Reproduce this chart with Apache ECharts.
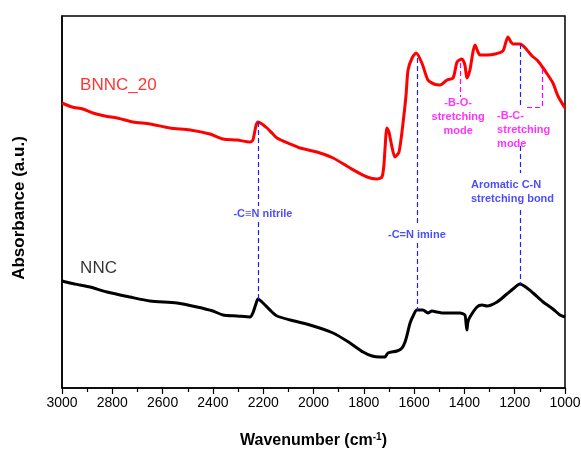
<!DOCTYPE html>
<html>
<head>
<meta charset="utf-8">
<script src="https://cdn.jsdelivr.net/npm/echarts@6/dist/echarts.min.js"></script>
<style>
  html, body { margin: 0; padding: 0; background: #fff; }
  #chart { width: 581px; height: 450px; }
</style>
</head>
<body>
<div id="chart"></div>
<script>
// FTIR spectra, wavenumber in cm^-1, absorbance in arbitrary units (curves offset)
const bnncWavenumber = [3000, 2960, 2917, 2877, 2829, 2781, 2718, 2650, 2571, 2491, 2412, 2360, 2304, 2252, 2241, 2229, 2221, 2205, 2185, 2165, 2145, 2093, 2054, 1986, 1922, 1855, 1787, 1748, 1728, 1720, 1716, 1708, 1700, 1692, 1676, 1660, 1644, 1632, 1624, 1608, 1592, 1569, 1545, 1521, 1497, 1469, 1445, 1429, 1410, 1398, 1390, 1378, 1366, 1358, 1346, 1338, 1310, 1278, 1247, 1235, 1227, 1215, 1207, 1179, 1151, 1131, 1111, 1087, 1068, 1048, 1028, 1000];
const bnncAbsorbance = [2.85, 2.81, 2.79, 2.75, 2.72, 2.70, 2.66, 2.64, 2.60, 2.58, 2.54, 2.49, 2.48, 2.46, 2.48, 2.62, 2.66, 2.64, 2.60, 2.55, 2.50, 2.44, 2.40, 2.36, 2.30, 2.20, 2.11, 2.09, 2.11, 2.23, 2.38, 2.60, 2.56, 2.46, 2.31, 2.36, 2.65, 2.93, 3.18, 3.30, 3.35, 3.25, 3.08, 3.04, 3.03, 3.08, 3.10, 3.26, 3.29, 3.23, 3.10, 3.18, 3.36, 3.43, 3.36, 3.33, 3.33, 3.34, 3.37, 3.46, 3.51, 3.46, 3.44, 3.44, 3.38, 3.32, 3.28, 3.20, 3.13, 3.05, 2.92, 2.80];

const nncWavenumber = [3000, 2968, 2928, 2889, 2821, 2730, 2650, 2543, 2463, 2400, 2360, 2304, 2252, 2241, 2229, 2221, 2205, 2185, 2165, 2145, 2093, 2014, 1922, 1855, 1803, 1767, 1736, 1716, 1704, 1668, 1648, 1636, 1628, 1616, 1604, 1589, 1565, 1545, 1529, 1509, 1489, 1469, 1445, 1418, 1398, 1394, 1390, 1386, 1378, 1350, 1330, 1310, 1270, 1231, 1207, 1179, 1151, 1127, 1087, 1048, 1020, 1000];
const nncAbsorbance = [1.07, 1.05, 1.03, 1.01, 0.96, 0.91, 0.87, 0.85, 0.81, 0.77, 0.73, 0.72, 0.71, 0.75, 0.84, 0.89, 0.86, 0.81, 0.76, 0.72, 0.68, 0.63, 0.55, 0.45, 0.36, 0.32, 0.31, 0.31, 0.35, 0.37, 0.40, 0.46, 0.53, 0.65, 0.72, 0.78, 0.78, 0.75, 0.77, 0.76, 0.75, 0.75, 0.75, 0.75, 0.73, 0.66, 0.58, 0.66, 0.71, 0.81, 0.83, 0.82, 0.86, 0.94, 0.99, 1.04, 1.00, 0.95, 0.86, 0.79, 0.73, 0.71];

const xTickStep = 200;
const xMin = 1000, xMax = 3000;
const yMin = 0, yMax = 3.72;

// Band assignment guides: [wavenumber, from, to] (split around their labels)
const bandGuides = [
  [2221, 2.66, 1.82], [2221, 1.66, 0.89],
  [1589, 3.30, 1.62], [1589, 1.45, 0.78],
  [1179, 3.44, 2.80], [1179, 2.42, 2.15], [1179, 1.78, 1.04]
];
const bandLabels = [
  { text: '-C\u2261N nitrile', at: [2201, 1.74], align: 'center' },
  { text: '-C=N imine', at: [1589, 1.53], align: 'center' },
  { text: 'Aromatic C-N\nstretching bond', at: [1374, 1.965], align: 'left' }
];

// Boron-related bands: segment end points [wavenumber, absorbance]
const boronGuides = [
  [[1418, 3.25], [1418, 2.91]],
  [[1091, 3.19], [1091, 2.81]],
  [[1151, 2.81], [1091, 2.81]]
];
const boronLabels = [
  { text: '-B-O-\nstretching\nmode', at: [1425, 2.71], align: 'center' },
  { text: '-B-C-\nstretching\nmode', at: [1270, 2.58], align: 'left' }
];

const sampleLabels = [
  { text: 'BNNC_20', at: [2928, 3.03], color: '#ff0000' },
  { text: 'NNC', at: [2928, 1.20], color: '#000000' }
];

const zip = (xs, ys) => xs.map((x, i) => [x, ys[i]]);

const blue = '#2020ff';
const magenta = '#ff00ff';
const font = 'Liberation Sans, Arial, sans-serif';

const guideLine = (segments, color) => ({
  silent: true,
  symbol: ['none', 'none'],
  label: { show: false },
  lineStyle: { color: color, type: [5, 3], width: 1.2 },
  data: segments.map(s => [{ coord: s[0] }, { coord: s[1] }])
});

const textPoints = (items, color, size, weight) => items.map(it => ({
  value: it.at,
  label: {
    show: true,
    position: 'inside',
    formatter: it.text,
    color: it.color || color,
    fontSize: size,
    fontWeight: weight,
    fontFamily: font,
    lineHeight: Math.round(size * 1.3),
    align: it.align || 'left',
    verticalAlign: 'middle'
  }
}));

const chart = echarts.init(document.getElementById('chart'), null, { renderer: 'canvas' });

chart.setOption({
  animation: false,
  backgroundColor: '#fff',
  grid: {
    left: 62, right: 16, top: 16, bottom: 62,
    containLabel: false,
    outerBoundsMode: 'none',
    show: true, borderColor: '#000', borderWidth: 1.5
  },
  xAxis: {
    type: 'value',
    min: xMin, max: xMax, interval: xTickStep,
    inverse: true,
    name: '{t|Wavenumber (cm}{s|-1}{t|)}',
    nameLocation: 'middle',
    nameGap: 44,
    nameTextStyle: {
      rich: {
        t: { fontSize: 16, fontWeight: 'bold', color: '#000', fontFamily: font },
        s: { fontSize: 10, fontWeight: 'bold', color: '#000', fontFamily: font, verticalAlign: 'top', padding: [0, 0, 8, 0] }
      }
    },
    axisLine: { show: true, lineStyle: { color: '#000', width: 1.5 } },
    axisTick: { show: true, inside: false, length: 6, lineStyle: { color: '#000', width: 1.2 } },
    minorTick: { show: true, splitNumber: 2, length: 4, lineStyle: { color: '#000', width: 1.2 } },
    axisLabel: { color: '#000', fontSize: 14, margin: 8, fontFamily: font, formatter: v => String(v) },
    splitLine: { show: false }
  },
  yAxis: {
    type: 'value',
    min: yMin, max: yMax,
    name: 'Absorbance (a.u.)',
    nameLocation: 'middle',
    nameGap: 34,
    nameTextStyle: { fontSize: 17, fontWeight: 'bold', color: '#000', fontFamily: font, padding: [0, 12, 0, 0] },
    axisLine: { show: true, lineStyle: { color: '#000', width: 1.5 } },
    axisTick: { show: false },
    axisLabel: { show: false },
    splitLine: { show: false }
  },
  series: [
    {
      name: 'BNNC_20',
      type: 'line',
      data: zip(bnncWavenumber, bnncAbsorbance),
      showSymbol: false,
      smooth: 0.25,
      lineStyle: { color: '#ff0000', width: 3 },
      z: 3,
      markLine: guideLine(boronGuides, magenta)
    },
    {
      name: 'NNC',
      type: 'line',
      data: zip(nncWavenumber, nncAbsorbance),
      showSymbol: false,
      smooth: 0.25,
      lineStyle: { color: '#000000', width: 3 },
      z: 3,
      markLine: guideLine(bandGuides.map(g => [[g[0], g[1]], [g[0], g[2]]]), blue)
    },
    {
      name: 'band labels',
      type: 'scatter',
      silent: true,
      symbolSize: 0,
      z: 5,
      data: textPoints(bandLabels, blue, 11, 'bold')
    },
    {
      name: 'boron labels',
      type: 'scatter',
      silent: true,
      symbolSize: 0,
      z: 5,
      data: textPoints(boronLabels, magenta, 11, 'bold')
    },
    {
      name: 'sample labels',
      type: 'scatter',
      silent: true,
      symbolSize: 0,
      z: 5,
      data: sampleLabels.map(s => ({
        value: s.at,
        label: {
          show: true, position: 'inside', formatter: s.text, color: s.color,
          fontSize: 17, fontFamily: font,
          align: 'left', verticalAlign: 'middle'
        }
      }))
    }
  ]
});
</script>
</body>
</html>
